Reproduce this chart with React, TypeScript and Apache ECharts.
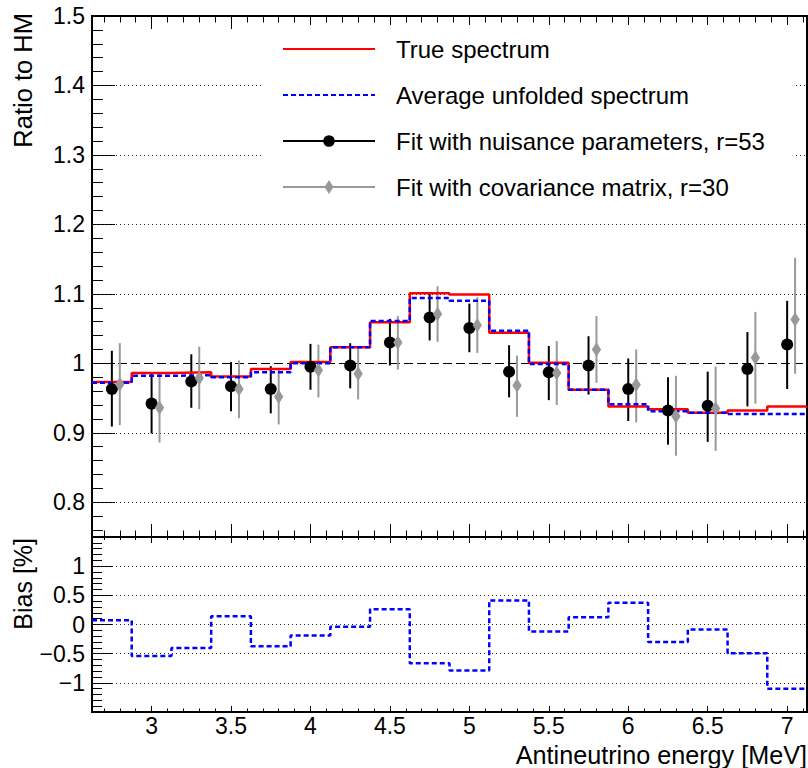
import React, { useEffect, useRef } from 'react';
import * as echarts from 'echarts';

// ---------------- data ----------------
const binEdges = [2.625, 2.875, 3.125, 3.375, 3.625, 3.875, 4.125, 4.375, 4.625, 4.875, 5.125, 5.375, 5.625, 5.875, 6.125, 6.375, 6.625, 6.875, 7.125];
const binCenters = [2.75, 3.0, 3.25, 3.5, 3.75, 4.0, 4.25, 4.5, 4.75, 5.0, 5.25, 5.5, 5.75, 6.0, 6.25, 6.5, 6.75, 7.0];

const trueSpectrum = [0.973, 0.986, 0.987, 0.981, 0.992, 1.002, 1.023, 1.059, 1.101, 1.099, 1.044, 1.001, 0.962, 0.938, 0.934, 0.929, 0.932, 0.938];
const avgUnfolded = [0.972, 0.982, 0.983, 0.980, 0.987, 1.000, 1.023, 1.061, 1.094, 1.090, 1.047, 0.999, 0.962, 0.941, 0.931, 0.929, 0.927, 0.927];

const nuisFit = [0.963, 0.942, 0.974, 0.967, 0.963, 0.995, 0.997, 1.030, 1.066, 1.051, 0.988, 0.987, 0.997, 0.963, 0.932, 0.939, 0.992, 1.027];
const nuisHigh = [1.018, 0.985, 1.013, 1.002, 0.996, 1.028, 1.029, 1.064, 1.100, 1.086, 1.026, 1.025, 1.039, 1.007, 0.980, 0.988, 1.045, 1.090];
const nuisLow = [0.909, 0.899, 0.936, 0.931, 0.928, 0.962, 0.964, 0.997, 1.033, 1.016, 0.951, 0.947, 0.955, 0.917, 0.883, 0.887, 0.938, 0.963];

const covFit = [0.970, 0.936, 0.979, 0.963, 0.952, 0.990, 0.985, 1.030, 1.071, 1.055, 0.968, 0.986, 1.020, 0.969, 0.924, 0.935, 1.008, 1.063];
const covHigh = [1.029, 0.986, 1.024, 1.004, 0.993, 1.027, 1.024, 1.068, 1.111, 1.095, 1.011, 1.032, 1.068, 1.020, 0.982, 0.995, 1.074, 1.152];
const covLow = [0.911, 0.886, 0.934, 0.921, 0.912, 0.951, 0.948, 0.991, 1.031, 1.015, 0.923, 0.940, 0.972, 0.915, 0.867, 0.874, 0.942, 0.985];

const biasPercent = [0.073, -0.539, -0.403, 0.141, -0.374, -0.187, -0.040, 0.260, -0.663, -0.789, 0.413, -0.119, 0.124, 0.374, -0.301, -0.085, -0.493, -1.100];

const energyTicks = [3, 3.5, 4, 4.5, 5, 5.5, 6, 6.5, 7];
const ratioTicks = [0.8, 0.9, 1, 1.1, 1.2, 1.3, 1.4, 1.5];
const biasTicks = [-1, -0.5, 0, 0.5, 1];

const seriesNames = [
  'True spectrum',
  'Average unfolded spectrum',
  'Fit with nuisance parameters, r=53',
  'Fit with covariance matrix, r=30',
];

// ---------------- layout / style ----------------
const FONT = "'Liberation Sans', Arial, Helvetica, sans-serif";
const X_MIN = binEdges[0];
const X_MAX = binEdges[binEdges.length - 1];
const RATIO_MIN = 0.75;
const RATIO_MAX = 1.5;
const BIAS_MIN = -1.5;
const BIAS_MAX = 1.5;
const COV_OFFSET = 0.05;
const RED = '#ff0000';
const BLUE = '#0000ff';
const GRAY = '#999999';
// symbols drawn inside a 14x14 box (padding kept via bounding move-to points)
const DIAMOND = 'path://M0 0M14 14M7 0L11.5 7L7 14L2.5 7Z';
const DOT = 'path://M0 0M14 14M1.15 7A5.85 5.85 0 1 0 12.85 7A5.85 5.85 0 1 0 1.15 7Z';

const steps = (a: number, b: number, s: number) => {
  const out: number[] = [];
  const n = Math.round((b - a) / s);
  for (let i = 0; i <= n; i++) out.push(Math.round((a + i * s) * 1000) / 1000);
  return out;
};
const energyMinor = steps(2.7, 7.1, 0.1);
const ratioMinor = steps(0.76, 1.5, 0.02);
const biasMinor = steps(-1.5, 1.5, 0.1);

const histo = (vals: number[]) => binEdges.map((e, i) => [e, vals[Math.min(i, vals.length - 1)]]);
const minus = (v: number) => String(v).replace('-', '\u2212');

const tickStyle = { color: '#000', width: 1 };

const mkX = (gridIndex: number, position: string, ticks: number[], len: number, labels: number[] | null) => ({
  type: 'value',
  gridIndex,
  position,
  min: X_MIN,
  max: X_MAX,
  axisLine: { show: false, onZero: false },
  axisTick: { show: true, inside: true, length: len, customValues: ticks, lineStyle: tickStyle },
  axisLabel: labels
    ? { show: true, customValues: labels, fontSize: 23, fontFamily: FONT, color: '#000', margin: 2 }
    : { show: false },
  splitLine: { show: false },
});

const mkY = (gridIndex: number, min: number, max: number, ticks: number[], len: number, labels: number[] | null) => ({
  type: 'value',
  gridIndex,
  position: 'left',
  min,
  max,
  axisLine: { show: false, onZero: false },
  axisTick: { show: true, inside: true, length: len, customValues: ticks, lineStyle: tickStyle },
  axisLabel: labels
    ? { show: true, customValues: labels, fontSize: 23, fontFamily: FONT, color: '#000', margin: 7, formatter: (v: number) => minus(v) }
    : { show: false },
  splitLine: { show: false },
});

const errBars = (xs: number[], lo: number[], hi: number[], color: string, xi: number, yi: number, name: string) => ({
  type: 'custom',
  name,
  xAxisIndex: xi,
  yAxisIndex: yi,
  silent: true,
  data: xs.map((x, i) => [x, lo[i], hi[i]]),
  encode: { x: 0, y: [1, 2] },
  renderItem: (_p: any, api: any) => {
    const a = api.coord([api.value(0), api.value(1)]);
    const b = api.coord([api.value(0), api.value(2)]);
    return {
      type: 'line',
      shape: { x1: a[0], y1: a[1], x2: b[0], y2: b[1] },
      style: { stroke: color, lineWidth: 2 },
    };
  },
});

const dotted = { type: [1, 3], width: 1, color: '#222' };

const option: any = {
  animation: false,
  backgroundColor: '#fff',
  textStyle: { fontFamily: FONT },
  grid: [
    { left: 92, top: 16, width: 715, height: 521, show: true, borderColor: '#000', borderWidth: 2, backgroundColor: 'transparent', containLabel: false, outerBoundsMode: 'none' },
    { left: 92, top: 537, width: 715, height: 175, show: true, borderColor: '#000', borderWidth: 2, backgroundColor: 'transparent', containLabel: false, outerBoundsMode: 'none' },
  ],
  xAxis: [
    mkX(0, 'bottom', energyTicks, 13, null),
    mkX(0, 'bottom', energyMinor, 6.5, null),
    mkX(0, 'top', energyTicks, 13, null),
    mkX(0, 'top', energyMinor, 6.5, null),
    mkX(1, 'bottom', energyTicks, 6, energyTicks),
    mkX(1, 'bottom', energyMinor, 3.5, null),
    mkX(1, 'top', energyTicks, 6, null),
    mkX(1, 'top', energyMinor, 3, null),
  ],
  yAxis: [
    mkY(0, RATIO_MIN, RATIO_MAX, ratioTicks, 23, ratioTicks),
    mkY(0, RATIO_MIN, RATIO_MAX, ratioMinor, 11, null),
    mkY(1, BIAS_MIN, BIAS_MAX, biasTicks, 20, biasTicks),
    mkY(1, BIAS_MIN, BIAS_MAX, biasMinor, 10, null),
  ],
  legend: {
    orient: 'vertical',
    left: 262,
    top: 25,
    padding: [12, 28, 14, 20],
    itemWidth: 92,
    itemHeight: 17.5,
    itemGap: 22,
    backgroundColor: '#fff',
    selectedMode: false,
    z: 4,
    textStyle: { fontSize: 24, fontFamily: FONT, color: '#000', padding: [0, 0, 0, 16], lineHeight: 24 },
    data: [
      { name: seriesNames[0], itemStyle: { opacity: 0 } },
      { name: seriesNames[1], itemStyle: { opacity: 0 } },
      { name: seriesNames[2], lineStyle: { opacity: 1, width: 2 } },
      { name: seriesNames[3], lineStyle: { opacity: 1, width: 2 } },
    ],
  },
  series: [
    {
      type: 'line',
      name: seriesNames[0],
      xAxisIndex: 0,
      yAxisIndex: 0,
      step: 'end',
      symbol: 'none',
      data: histo(trueSpectrum),
      color: RED,
      lineStyle: { color: RED, width: 2.5 },
      markLine: {
        silent: true,
        z: 1,
        symbol: 'none',
        label: { show: false },
        emphasis: { disabled: true },
        data: [
          ...ratioTicks.filter((v) => v !== 1 && v !== RATIO_MAX).map((v) => ({ yAxis: v, lineStyle: dotted })),
          { yAxis: 1, lineStyle: { type: [9, 4], width: 1.2, color: '#000' } },
        ],
      },
    },
    {
      type: 'line',
      name: seriesNames[1],
      xAxisIndex: 0,
      yAxisIndex: 0,
      step: 'end',
      symbol: 'none',
      data: histo(avgUnfolded),
      color: BLUE,
      lineStyle: { color: BLUE, width: 2.5, type: [5, 3] },
    },
    errBars(binCenters, nuisLow, nuisHigh, '#000', 0, 0, 'nuisErr'),
    {
      type: 'line',
      name: seriesNames[2],
      xAxisIndex: 0,
      yAxisIndex: 0,
      symbol: DOT,
      symbolSize: 14.4,
      showAllSymbol: true,
      data: binCenters.map((c, i) => [c, nuisFit[i]]),
      color: '#000',
      itemStyle: { color: '#000' },
      lineStyle: { color: '#000', opacity: 0 },
    },
    errBars(binCenters.map((c) => c + COV_OFFSET), covLow, covHigh, GRAY, 0, 0, 'covErr'),
    {
      type: 'line',
      name: seriesNames[3],
      xAxisIndex: 0,
      yAxisIndex: 0,
      symbol: DIAMOND,
      symbolSize: 14.5,
      showAllSymbol: true,
      data: binCenters.map((c, i) => [c + COV_OFFSET, covFit[i]]),
      color: GRAY,
      itemStyle: { color: GRAY },
      lineStyle: { color: GRAY, opacity: 0 },
    },
    {
      type: 'line',
      name: 'Bias',
      xAxisIndex: 4,
      yAxisIndex: 2,
      step: 'end',
      symbol: 'none',
      data: histo(biasPercent),
      color: BLUE,
      lineStyle: { color: BLUE, width: 2.5, type: [5, 3] },
      markLine: {
        silent: true,
        z: 1,
        symbol: 'none',
        label: { show: false },
        emphasis: { disabled: true },
        data: biasTicks.map((v) => ({ yAxis: v, lineStyle: dotted })),
      },
    },
  ],
  graphic: [
    {
      type: 'text',
      x: 23,
      y: 13,
      rotation: Math.PI / 2,
      style: { text: 'Ratio to HM', fontSize: 25.5, fontFamily: FONT, fill: '#000', textAlign: 'right', align: 'right', textVerticalAlign: 'middle', verticalAlign: 'middle' },
    },
    {
      type: 'text',
      x: 23,
      y: 538,
      rotation: Math.PI / 2,
      style: { text: 'Bias [%]', fontSize: 25, fontFamily: FONT, fill: '#000', textAlign: 'right', align: 'right', textVerticalAlign: 'middle', verticalAlign: 'middle' },
    },
    {
      type: 'text',
      x: 807,
      y: 755,
      style: { text: 'Antineutrino energy [MeV]', fontSize: 25.2, fontFamily: FONT, fill: '#000', textAlign: 'right', align: 'right', textVerticalAlign: 'middle', verticalAlign: 'middle' },
    },
  ],
};

export default function App() {
  const ref = useRef<HTMLDivElement>(null);
  useEffect(() => {
    const chart = echarts.init(ref.current!, null, { renderer: 'svg' });
    chart.setOption(option);
    return () => chart.dispose();
  }, []);
  return <div ref={ref} style={{ position: 'absolute', left: 0, top: 0, width: 808, height: 768 }} />;
}
